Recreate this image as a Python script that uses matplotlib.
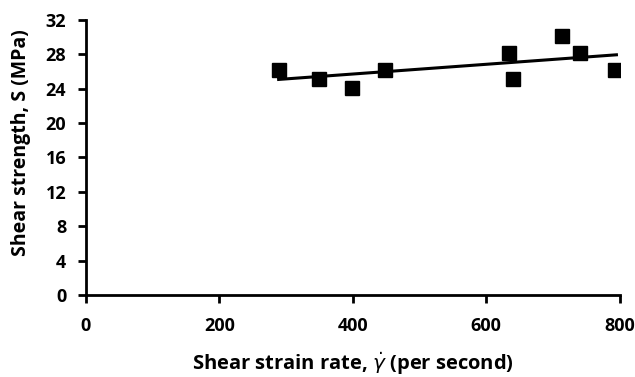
import numpy as np
import matplotlib
matplotlib.use("Agg")
import matplotlib.pyplot as plt

plt.rcParams['font.family'] = ['Open Sans', 'DejaVu Sans']

strain_rate = [289, 349, 399, 449, 634, 640, 713, 740, 793]
shear_strength = [26.2, 25.1, 24.1, 26.2, 28.1, 25.1, 30.1, 28.1, 26.2]
x_ticks = [0, 200, 400, 600, 800]
y_ticks = [0, 4, 8, 12, 16, 20, 24, 28, 32]

fig = plt.figure(figsize=(6.35, 3.77), dpi=100)
ax = fig.add_axes([0.135, 0.2175, 0.841, 0.73])

ax.plot(strain_rate, shear_strength, 's', color='black', markersize=10.5, zorder=3)
coef = np.polyfit(strain_rate, shear_strength, 1)
xl = np.array([min(strain_rate), 795])
ax.plot(xl, np.polyval(coef, xl), color='black', linewidth=2.2, zorder=2)

ax.set_xlim(0, 800)
ax.set_ylim(0, 32)
ax.set_xticks(x_ticks)
ax.set_yticks(y_ticks)
for s in ['top', 'right']:
    ax.spines[s].set_visible(False)
for s in ['left', 'bottom']:
    ax.spines[s].set_linewidth(2)
ax.tick_params(axis='both', width=2, length=6, labelsize=13, direction='out')
ax.tick_params(axis='x', pad=10)
ax.tick_params(axis='y', pad=8)
for lab in ax.get_xticklabels() + ax.get_yticklabels():
    lab.set_fontweight('bold')
ax.set_xlabel('Shear strain rate, $\\dot{\\gamma}$ (per second)', fontsize=14.5, fontweight='bold', labelpad=11)
ax.set_ylabel('Shear strength, S (MPa)', fontsize=14, fontweight='bold', labelpad=9)
ax.yaxis.set_label_coords(-0.102, 0.555)

fig.savefig('out.png', dpi=100)
